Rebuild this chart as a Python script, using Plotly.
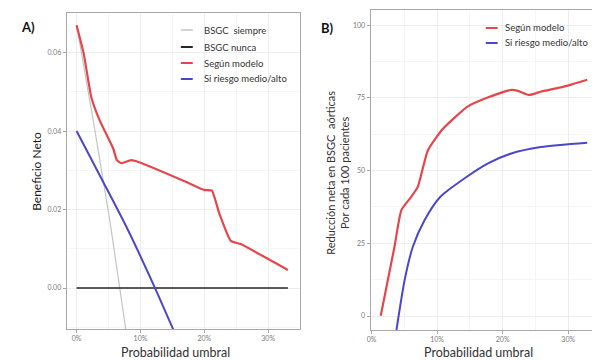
import plotly.graph_objects as go

# ---------------- Panel A data (net benefit) ----------------
a_all_x = [0.0, 0.026, 0.052, 0.0767, 0.080]
a_all_y = [0.067, 0.0428, 0.0173, -0.0103, -0.0138]

a_none_x = [0.0, 0.331]
a_none_y = [0.0, 0.0]

a_model_x = [0.0, 0.011, 0.023, 0.036, 0.0575, 0.063, 0.070, 0.0855, 0.096,
             0.171, 0.200, 0.212, 0.2235, 0.2415, 0.257, 0.331]
a_model_y = [0.067, 0.0599, 0.0487, 0.0428, 0.0355, 0.0326, 0.0318, 0.0326, 0.0322,
             0.0271, 0.0250, 0.0248, 0.019, 0.012, 0.0112, 0.0046]

a_risk_x = [0.0, 0.0415, 0.078, 0.122, 0.152]
a_risk_y = [0.040, 0.0271, 0.0156, 0.0003, -0.0108]

# ---------------- Panel B data (net reduction per 100) ----------------
b_model_x = [0.014, 0.035, 0.0455, 0.0606, 0.0707, 0.086, 0.1086,
             0.1465, 0.177, 0.212, 0.222, 0.240, 0.258, 0.298, 0.329]
b_model_y = [0.1, 23.8, 36.4, 41.0, 44.5, 57.0, 64.3,
             72.0, 75.1, 77.7, 77.5, 76.0, 77.1, 79.1, 81.2]

b_risk_x = [0.038, 0.0505, 0.063, 0.081, 0.105, 0.141, 0.177,
            0.212, 0.258, 0.329]
b_risk_y = [-4.8, 12.4, 23.8, 33.0, 41.0, 47.2, 52.4,
            55.8, 58.1, 59.6]

x_tickvals = [0.0, 0.1, 0.2, 0.3]
x_ticktext = ["0%", "10%", "20%", "30%"]
a_tickvals = [0.00, 0.02, 0.04, 0.06]
a_ticktext = ["0.00", "0.02", "0.04", "0.06"]
b_tickvals = [0, 25, 50, 75, 100]
b_ticktext = ["0", "25", "50", "75", "100"]

legend_a_names = ["BSGC  siempre", "BSGC nunca", "Según modelo", "Si riesgo medio/alto"]
legend_b_names = ["Según modelo", "Si riesgo medio/alto"]

RED = "#E5464B"
BLUE = "#4B47C9"
GREY = "#C4C4C4"
BLACK = "#262626"
FONT = "Lato"

# page body has an 8px margin: the figure is placed at (8, 8)
OFF = 8
W, H = 600 - OFF, 360 - OFF


def px(x):
    return (x - OFF) / W


def py(y):
    return 1 - (y - OFF) / H


fig = go.Figure()

fig.add_trace(go.Scatter(x=a_all_x, y=a_all_y, mode="lines", name=legend_a_names[0],
                         line=dict(color=GREY, width=1.2), xaxis="x", yaxis="y"))
fig.add_trace(go.Scatter(x=a_none_x, y=a_none_y, mode="lines", name=legend_a_names[1],
                         line=dict(color=BLACK, width=1.6), xaxis="x", yaxis="y"))
fig.add_trace(go.Scatter(x=a_model_x, y=a_model_y, mode="lines", name=legend_a_names[2],
                         line=dict(color=RED, width=2.2, shape="spline", smoothing=0.4),
                         xaxis="x", yaxis="y"))
fig.add_trace(go.Scatter(x=a_risk_x, y=a_risk_y, mode="lines", name=legend_a_names[3],
                         line=dict(color=BLUE, width=2.0, shape="spline", smoothing=0.5),
                         xaxis="x", yaxis="y"))

fig.add_trace(go.Scatter(x=b_model_x, y=b_model_y, mode="lines", name=legend_b_names[0],
                         line=dict(color=RED, width=2.2, shape="spline", smoothing=0.5),
                         xaxis="x2", yaxis="y2"))
fig.add_trace(go.Scatter(x=b_risk_x, y=b_risk_y, mode="lines", name=legend_b_names[1],
                         line=dict(color=BLUE, width=2.0, shape="spline", smoothing=0.7),
                         xaxis="x2", yaxis="y2"))

axis_common = dict(
    showline=True, linecolor="#A8A8A8", linewidth=1, mirror=True,
    ticks="outside", ticklen=3, tickcolor="#A8A8A8", tickwidth=1,
    tickfont=dict(family=FONT, size=7, color="#7A7A7A"),
    showgrid=True, gridcolor="#EDEDED", gridwidth=0.8,
    zeroline=False,
)

fig.update_layout(
    width=W, height=H,
    margin=dict(l=0, r=0, t=0, b=0),
    paper_bgcolor="white", plot_bgcolor="white",
    font=dict(family=FONT, color="#333333"),
    showlegend=False,
    xaxis=dict(domain=[px(63), px(298)], range=[-0.0156, 0.350],
               tickvals=x_tickvals, ticktext=x_ticktext, anchor="y",
               minor=dict(dtick=0.05, tick0=0.05, showgrid=True, gridcolor="#F5F5F5"),
               **axis_common),
    yaxis=dict(domain=[py(329), py(13)], range=[-0.01045, 0.0701],
               tickvals=a_tickvals, ticktext=a_ticktext, anchor="x",
               minor=dict(dtick=0.01, tick0=0.01, showgrid=True, gridcolor="#F5F5F5"),
               **axis_common),
    xaxis2=dict(domain=[px(369), px(597)], range=[-0.0015, 0.344],
                tickvals=x_tickvals, ticktext=x_ticktext, anchor="y2",
                minor=dict(dtick=0.05, tick0=0.05, showgrid=True, gridcolor="#F5F5F5"),
                **axis_common),
    yaxis2=dict(domain=[py(330), py(10)], range=[-4.8, 105.2],
                tickvals=b_tickvals, ticktext=b_ticktext, anchor="x2",
                minor=dict(dtick=12.5, tick0=12.5, showgrid=True, gridcolor="#F5F5F5"),
                **axis_common),
)

annotations = [
    dict(text="<b>A)</b>", x=px(15), y=py(27), xref="paper", yref="paper",
         xanchor="left", yanchor="middle", showarrow=False,
         font=dict(family=FONT, size=13, color="#111111")),
    dict(text="<b>B)</b>", x=px(317), y=py(28), xref="paper", yref="paper",
         xanchor="left", yanchor="middle", showarrow=False,
         font=dict(family=FONT, size=13, color="#111111")),
    dict(text="Probabilidad umbral", x=px(173), y=py(352), xref="paper", yref="paper",
         xanchor="center", yanchor="middle", showarrow=False,
         font=dict(family=FONT, size=12.5, color="#333333")),
    dict(text="Probabilidad umbral", x=px(478), y=py(352), xref="paper", yref="paper",
         xanchor="center", yanchor="middle", showarrow=False,
         font=dict(family=FONT, size=12.5, color="#333333")),
    dict(text="Beneficio Neto", x=px(32), y=py(171), xref="paper", yref="paper",
         xanchor="center", yanchor="middle", showarrow=False, textangle=-90,
         font=dict(family=FONT, size=12, color="#1A1A1A")),
    dict(text="Reducción neta en BSGC  aórticas<br>Por cada 100 pacientes",
         x=px(335), y=py(173), xref="paper", yref="paper",
         xanchor="center", yanchor="middle", showarrow=False, textangle=-90,
         font=dict(family=FONT, size=11, color="#333333")),
]

shapes = []
# manual legend keys, panel A
legend_a_colors = [GREY, BLACK, RED, BLUE]
legend_a_widths = [1.5, 2.0, 2.0, 2.0]
legend_a_rows = [30, 47, 63, 79]
for name, col, lw, row in zip(legend_a_names, legend_a_colors, legend_a_widths, legend_a_rows):
    shapes.append(dict(type="line", xref="paper", yref="paper",
                       x0=px(178), x1=px(190), y0=py(row), y1=py(row),
                       line=dict(color=col, width=lw)))
    annotations.append(dict(text=name, x=px(199), y=py(row), xref="paper", yref="paper",
                            xanchor="left", yanchor="middle", showarrow=False,
                            font=dict(family=FONT, size=9.5, color="#333333")))
# manual legend keys, panel B
legend_b_colors = [RED, BLUE]
legend_b_rows = [28, 43]
for name, col, row in zip(legend_b_names, legend_b_colors, legend_b_rows):
    shapes.append(dict(type="line", xref="paper", yref="paper",
                       x0=px(485), x1=px(497), y0=py(row), y1=py(row),
                       line=dict(color=col, width=2.0)))
    annotations.append(dict(text=name, x=px(502), y=py(row), xref="paper", yref="paper",
                            xanchor="left", yanchor="middle", showarrow=False,
                            font=dict(family=FONT, size=9.5, color="#333333")))

fig.update_layout(annotations=annotations, shapes=shapes)

fig.write_html("out.html")
